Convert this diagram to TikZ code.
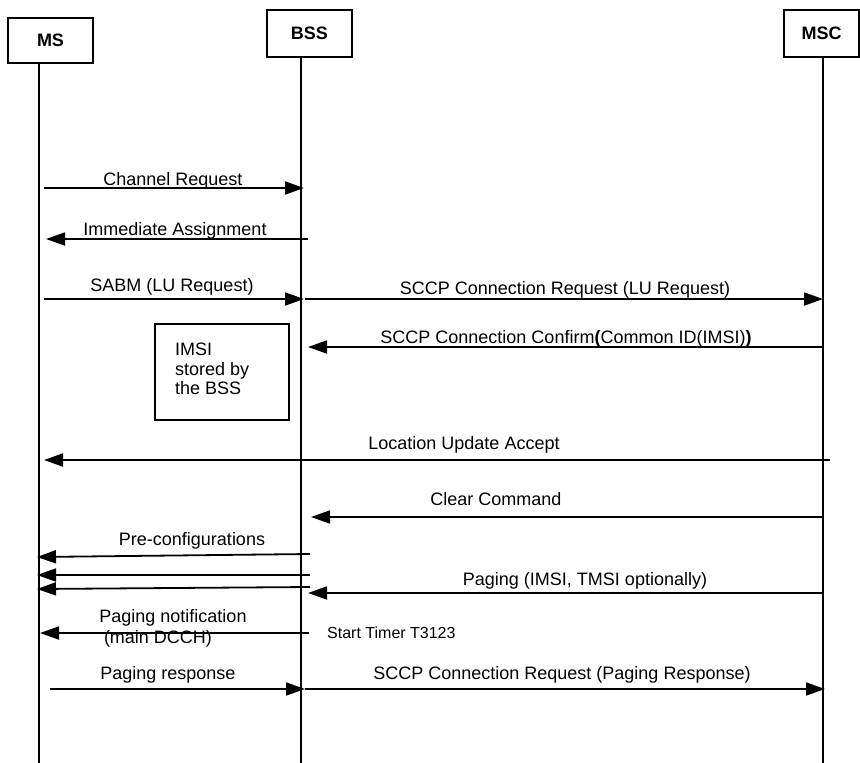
\documentclass[tikz,border=0pt]{standalone}
\usepackage{fontspec}
\setmainfont{Liberation Sans}
\usetikzlibrary{arrows.meta}
\begin{document}
\begin{tikzpicture}[x=1pt,y=-1pt,
  msg/.style={line width=1.8pt, -{Triangle[length=19pt,width=13pt]}},
  life/.style={line width=1.3pt},
  hdr/.style={draw, line width=1.3pt, font=\fontsize{18}{20}\selectfont\bfseries, inner sep=0pt},
  lbl/.style={font=\fontsize{18}{20}\selectfont, inner sep=0pt, anchor=base},
  note/.style={draw, line width=1.3pt, inner sep=0pt},
  small/.style={font=\fontsize{16}{18}\selectfont, inner sep=0pt, anchor=base west}]
\useasboundingbox (0,0) rectangle (860,763);

% header boxes
\node[hdr, minimum width=85pt, minimum height=45pt] (ms) at (50.5,40.5) {MS};
\node[hdr, minimum width=85pt, minimum height=47pt] (bss) at (309.5,33.5) {BSS};
\node[hdr, minimum width=75pt, minimum height=47pt] (msc) at (821.5,33.5) {MSC};

% lifeline ends
\coordinate (msEnd) at (39,763);
\coordinate (bssEnd) at (301,763);
\coordinate (mscEnd) at (823,763);
\draw[life] (ms.south -| msEnd) -- (msEnd);
\draw[life] (bss.south -| bssEnd) -- (bssEnd);
\draw[life] (msc.south -| mscEnd) -- (mscEnd);

% message end points
\coordinate (a1) at (44,188);  \coordinate (b1) at (304,188);
\coordinate (a2) at (308,239); \coordinate (b2) at (46,239);
\coordinate (a3) at (44,299);  \coordinate (b3) at (304,299);
\coordinate (a4) at (305,299); \coordinate (b4) at (823,299);
\coordinate (a5) at (823,347); \coordinate (b5) at (308,347);
\coordinate (a6) at (830,460); \coordinate (b6) at (44,460);
\coordinate (a7) at (823,517); \coordinate (b7) at (311,517);
\coordinate (a8) at (310,554); \coordinate (b8) at (37,557);
\coordinate (a9) at (310,575); \coordinate (b9) at (37,575);
\coordinate (a10) at (310,587); \coordinate (b10) at (37,589);
\coordinate (a11) at (823,593); \coordinate (b11) at (308,593);
\coordinate (a12) at (309,633); \coordinate (b12) at (40,633);
\coordinate (a13) at (50,689); \coordinate (b13) at (305,689);
\coordinate (a14) at (305,689); \coordinate (b14) at (825,689);

\foreach \i in {1,...,14} {\draw[msg] (a\i) -- (b\i);}

% labels
\node[lbl] (l1) at (173,185) {Channel Request};
\node[lbl] (l2) at (175,235) {Immediate Assignment};
\node[lbl] (l3) at (172,291) {SABM (LU Request)};
\node[lbl] (l4) at (565,294) {SCCP Connection Request (LU Request)};
\node[lbl] (l5) at (566,343) {SCCP Connection Confirm\textbf{(}Common ID(IMSI)\textbf{)}};
\node[lbl] (l6) at (464,449) {Location Update Accept};
\node[lbl] (l7) at (496,505) {Clear Command};
\node[lbl] (l8) at (192,545) {Pre-configurations};
\node[lbl] (l9) at (585,585) {Paging (IMSI, TMSI optionally)};
\node[lbl] (l10) at (173,622) {Paging notification};
\node[lbl] (l11) at (158,643) {(main DCCH)};
\node[small] (l12) at (327,638) {Start Timer T3123};
\node[lbl] (l13) at (168,679) {Paging response};
\node[lbl] (l14) at (562,679) {SCCP Connection Request (Paging Response)};

% note box
\node[note, minimum width=134pt, minimum height=96pt] (imsi) at (222,372) {};
\node[font=\fontsize{18}{19.5}\selectfont, inner sep=0pt, anchor=north west, align=left] (imsitext) at (175,343) {IMSI\\stored by\\the BSS};
\end{tikzpicture}
\end{document}
